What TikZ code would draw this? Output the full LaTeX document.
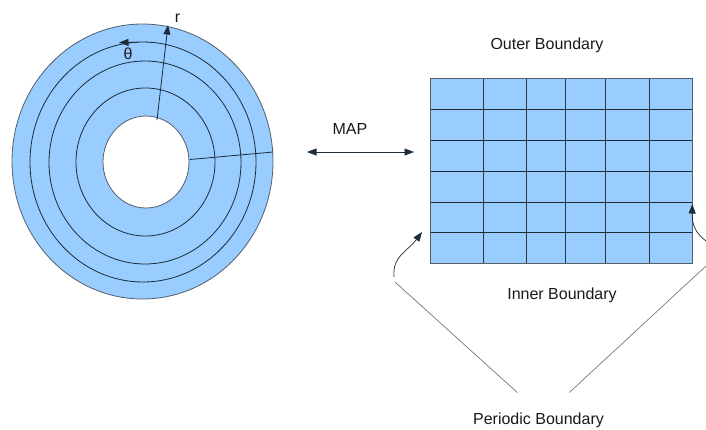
\documentclass[tikz,border=0pt]{standalone}
\usepackage{fontspec}
\setmainfont{Liberation Sans}
\usetikzlibrary{arrows.meta}
\definecolor{cellblue}{HTML}{99CCFF}
\definecolor{lineink}{HTML}{1E2B38}
\definecolor{rimgray}{HTML}{555F6A}
\definecolor{thingray}{HTML}{777777}
\tikzset{
  lbl/.style={font=\fontsize{16}{19}\selectfont, text=black!90, inner sep=0pt},
  ring/.style={draw=lineink, line width=0.8pt},
  tip/.style={-{Triangle[length=9.5pt,width=7pt]}},
  bitip/.style={{Triangle[length=9.5pt,width=7pt]}-{Triangle[length=9.5pt,width=7pt]}},
  thin/.style={draw=thingray, line width=0.7pt},
}
\begin{document}
\begin{tikzpicture}[x=1pt,y=-1pt]
\useasboundingbox (0,0) rectangle (706,429);
% disk (annulus)
\fill[cellblue, even odd rule] (142.5,161.5) ellipse [x radius=130.5, y radius=137.5]
      (146,162) ellipse [x radius=43, y radius=46];
\draw[draw=rimgray, line width=0.8pt] (142.5,161.5) ellipse [x radius=130.5, y radius=137.5];
\draw[draw=rimgray, line width=0.8pt] (146,162) ellipse [x radius=43, y radius=46];
\draw[ring] (145.5,162) ellipse [x radius=69.5, y radius=74];
\draw[ring] (145,162.5) ellipse [x radius=96, y radius=101.5];
\draw[ring] (143,162) ellipse [x radius=113, y radius=120];
% cut line
\coordinate (cutA) at (190,159.5);
\coordinate (cutB) at (273,152);
\draw[ring] (cutA) -- (cutB);
% r arrow
\coordinate (rstart) at (157,120);
\coordinate (rend) at (168,25);
\draw[ring, tip] (rstart) -- (rend);
\node[lbl] (rlab) at (177.5,18) {r};
% theta arrow
\coordinate (thA) at (138,42.2);
\coordinate (thB) at (119,42.6);
\draw[ring, tip] (thA) -- (thB);
\node[lbl] (thlab) at (128,53.5) {θ};
% MAP
\node[lbl] (map) at (350,128.5) {MAP};
\coordinate (mapL) at (307,152);
\coordinate (mapR) at (414,152);
\draw[ring, line width=0.7pt, bitip] (mapL) -- (mapR);
% grid
\fill[cellblue] (430,78.5) rectangle (692,263);
\foreach \x in {483.5,526,565,605,649}
  \draw[draw=lineink!85!gray, line width=0.8pt] (\x,78.5) -- (\x,263);
\foreach \y in {109.3,140.7,171,202.3,232.7}
  \draw[draw=lineink, line width=0.8pt] (430,\y) -- (692,\y);
\draw[draw=rimgray, line width=0.8pt] (430,78.5) rectangle (692,263);
\node[lbl] (outer) at (547,45.5) {Outer Boundary};
\node[lbl] (inner) at (562,295.5) {Inner Boundary};
\node[lbl, anchor=base] (periodic) at (538.5,424.5) {Periodic Boundary};
% periodic boundary pointers
\coordinate (lcurveS) at (394,277);
\coordinate (lcurveT) at (422,232);
\draw[ring, line width=0.7pt, tip] (lcurveS) .. controls (392,256) and (408,251) .. (lcurveT);
\coordinate (rcurveS) at (706,241);
\coordinate (rcurveT) at (692.3,204);
\draw[ring, line width=0.7pt, tip] (rcurveS) .. controls (695,233) and (692,224) .. (rcurveT);
\coordinate (plA) at (395,282);
\coordinate (plB) at (517.3,392.5);
\draw[thin] (plA) -- (plB);
\coordinate (prA) at (706,266);
\coordinate (prB) at (569.3,392.5);
\draw[thin] (prA) -- (prB);
\end{tikzpicture}
\end{document}
